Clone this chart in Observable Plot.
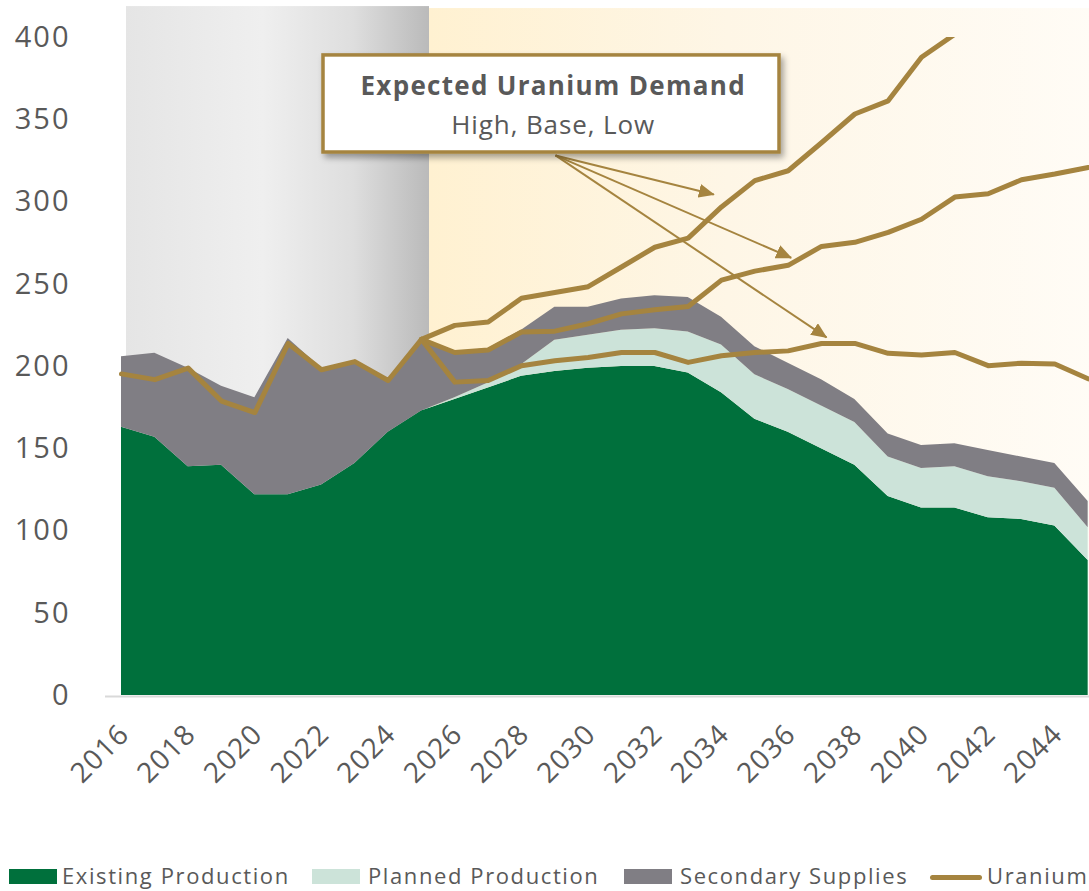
<!DOCTYPE html>
<html><head><meta charset="utf-8">
<script src="https://cdn.jsdelivr.net/npm/d3@7"></script>
<script src="https://cdn.jsdelivr.net/npm/@observablehq/plot@0.6"></script>
<style>
body{margin:0;background:#fff;font-family:"Open Sans",sans-serif;}
#wrap{position:relative;width:1089px;height:891px;overflow:hidden;background:#fff}
.leg{position:absolute;top:864px;height:22px;line-height:22px;font-size:22px;letter-spacing:1.6px;color:#595959;white-space:nowrap}
.sw{position:absolute;top:5px;width:48px;height:15px}
.ln{position:absolute;top:11px;width:52px;height:5px;border-radius:3px;background:#a5843f}
.lt{position:absolute;top:0}
</style></head><body><div id="wrap"><div id="chart"></div>
<div class="leg" style="left:9px"><div class="sw" style="left:0;background:#00703c"></div><div class="lt" style="left:53px">Existing Production</div></div>
<div class="leg" style="left:312px"><div class="sw" style="left:0;background:#cce3d9"></div><div class="lt" style="left:56px">Planned Production</div></div>
<div class="leg" style="left:624px"><div class="sw" style="left:0;background:#807e84"></div><div class="lt" style="left:56px">Secondary Supplies</div></div>
<div class="leg" style="left:930px"><div class="ln" style="left:0"></div><div class="lt" style="left:57px">Uranium</div></div>
</div>
<script>
// ---- data ----
const years = [2016,2017,2018,2019,2020,2021,2022,2023,2024,2025,2026,2027,2028,2029,2030,2031,2032,2033,2034,2035,2036,2037,2038,2039,2040,2041,2042,2043,2044,2045];
const existingProduction = [163,157,139,140,122,122,128,141,160,173,180,187,194,197,199,200,200,196,184,168,160,150,140,121,114,114,108,107,103,82];
const plannedProduction  = [0,0,0,0,0,0,0,0,0,0,1,3,7,19,20,22,23,25,29,27,26,26,26,24,24,25,25,23,23,20];
const secondarySupplies  = [43,51,60,48,59,95,71,62,32,43,28,21,21,20,17,19,20,21,17,17,16,16,14,14,14,14,16,15,15,16];

const histYears  = [2016,2017,2018,2019,2020,2021,2022,2023,2024,2025];
const histDemand = [195.5,192,199,179,172,214,198,203,191.5,216.5];
const scenYears  = [2025,2026,2027,2028,2029,2030,2031,2032,2033,2034,2035,2036,2037,2038,2039,2040,2041,2042,2043,2044,2045];
const demandHigh = [216.5,225,227,241.5,245,248.5,260.5,272.5,278,297,313,319,336,353.5,361.5,388,402,418];
const demandBase = [216.5,208.5,210,221,221.5,226,232,234.5,236.5,252.5,258,261.5,273,275.5,281.5,289.5,303,305,313.5,317,321];
const demandLow  = [216.5,190.5,191.5,200.5,203.5,205.5,208.5,208.5,202.5,206.5,208.5,209.5,214,214,208,207,208.5,200.5,202,201.5,192.5];

const seriesNames = ["Existing Production","Planned Production","Secondary Supplies"];
const seriesColors = ["#00703c","#cce3d9","#807e84"];
const yTicks = [0,50,100,150,200,250,300,350,400];
const xTicks = [2016,2018,2020,2022,2024,2026,2028,2030,2032,2034,2036,2038,2040,2042,2044];

// annotation (data units)
const historyBand  = {x1: 2016.15, x2: 2025.24, y1: 0, y2: 418.8};
const forecastBand = {x1: 2025.24, x2: 2045.2, y1: 0, y2: 417.6};
const noteBox = {x1: 2022.06, x2: 2035.74, y1: 330.1, y2: 389.1};
const noteTitle = {x: 2028.95, y: 370.2, text: "Expected Uranium Demand"};
const noteSub = {x: 2028.95, y: 346.5, text: "High, Base, Low"};
const arrowStart = {x: 2029.02, y: 328.3};
const arrowTips = [{x: 2033.77, y: 304.6},{x: 2036.09, y: 266.1},{x: 2037.15, y: 217.7}];

// ---- tables ----
const supply = [];
[existingProduction, plannedProduction, secondarySupplies].forEach((arr, k) => {
  arr.forEach((v, i) => supply.push({year: years[i], value: v, series: seriesNames[k]}));
});
const demand = [];
histYears.forEach((y, i) => demand.push({year: y, value: histDemand[i], s: "hist"}));
[["High", demandHigh],["Base", demandBase],["Low", demandLow]].forEach(([n, arr]) => {
  arr.forEach((v, i) => demand.push({year: scenYears[i], value: v, s: n}));
});
const arrows = arrowTips.map(t => ({x1: arrowStart.x, y1: arrowStart.y, x2: t.x, y2: t.y}));

const gold = "#a5843f";
const txt = "#595959";

const chart = Plot.plot({
  width: 1089, height: 800,
  marginLeft: 105, marginRight: 0, marginTop: 37, marginBottom: 105,
  style: {background: "transparent", fontFamily: "'Open Sans', sans-serif", overflow: "visible"},
  x: {domain: [2015.52, 2045.04]},
  y: {domain: [0, 400]},
  color: {domain: seriesNames, range: seriesColors},
  marks: [
    Plot.rect([historyBand], {x1: "x1", x2: "x2", y1: "y1", y2: "y2", fill: "url(#gGray)"}),
    Plot.rect([forecastBand], {x1: "x1", x2: "x2", y1: "y1", y2: "y2", fill: "url(#gCream)"}),
    Plot.axisY({ticks: yTicks, tickSize: 0, tickPadding: 35, fontSize: 29, color: txt}),
    Plot.axisX({ticks: xTicks, tickFormat: d => String(d), tickRotate: -45, tickSize: 0, tickPadding: 34, dx: 3, fontSize: 28, color: txt}),
    Plot.ruleY([0], {stroke: "#d9d9d9", strokeWidth: 2, dy: 1}),
    Plot.areaY(supply, {x: "year", y: "value", fill: "series", z: "series"}),
    Plot.line(demand, {x: "year", y: "value", z: "s", stroke: gold, strokeWidth: 5, strokeLinejoin: "round", strokeLinecap: "round", clip: true}),
    Plot.link(arrows, {x1: "x1", y1: "y1", x2: "x2", y2: "y2", stroke: gold, strokeWidth: 2}),
    Plot.rect([noteBox], {x1: "x1", x2: "x2", y1: "y1", y2: "y2", fill: "#fff", stroke: gold, strokeWidth: 3.5}),
    Plot.text([noteTitle], {x: "x", y: "y", text: "text", fontSize: 26, fontWeight: "bold", fill: txt}),
    Plot.text([noteSub], {x: "x", y: "y", text: "text", fontSize: 26, fill: txt})
  ]
});

const ns = "http://www.w3.org/2000/svg";
const defs = document.createElementNS(ns, "defs");
defs.innerHTML = `
<linearGradient id="gGray" x1="0" x2="1" y1="0" y2="0">
  <stop offset="0" stop-color="#e5e5e5"/>
  <stop offset="0.45" stop-color="#efefef"/>
  <stop offset="0.75" stop-color="#dedede"/>
  <stop offset="1" stop-color="#bababa"/>
</linearGradient>
<linearGradient id="gCream" x1="0" x2="1" y1="0" y2="0">
  <stop offset="0" stop-color="#fff1d1"/>
  <stop offset="0.45" stop-color="#fef6e6"/>
  <stop offset="1" stop-color="#fffcf6"/>
</linearGradient>
<marker id="ah" viewBox="0 0 16 14" refX="15" refY="7" markerUnits="userSpaceOnUse" markerWidth="16" markerHeight="14" orient="auto">
  <path d="M0,0L16,7L0,14z" fill="${gold}"/>
</marker>
<filter id="sh" x="-10%" y="-20%" width="130%" height="160%">
  <feDropShadow dx="3" dy="4" stdDeviation="3" flood-color="#000" flood-opacity="0.35"/>
</filter>`;
chart.insertBefore(defs, chart.firstChild);
chart.querySelectorAll('g[aria-label="link"] path, g[aria-label="link"] line').forEach(p => p.setAttribute("marker-end", "url(#ah)"));
const rects = chart.querySelectorAll('g[aria-label="rect"]');
if (rects.length) rects[rects.length - 1].setAttribute("filter", "url(#sh)");
chart.querySelectorAll('g[aria-label="y-axis tick label"]').forEach(g => g.style.letterSpacing = "2px");
chart.querySelectorAll('g[aria-label="x-axis tick label"]').forEach(g => g.style.letterSpacing = "1.2px");
const texts = chart.querySelectorAll('g[aria-label="text"]');
if (texts.length >= 2) {
  texts[texts.length - 2].style.letterSpacing = "1.3px";
  texts[texts.length - 1].style.letterSpacing = "0.9px";
}
document.getElementById("chart").appendChild(chart);
</script></body></html>
